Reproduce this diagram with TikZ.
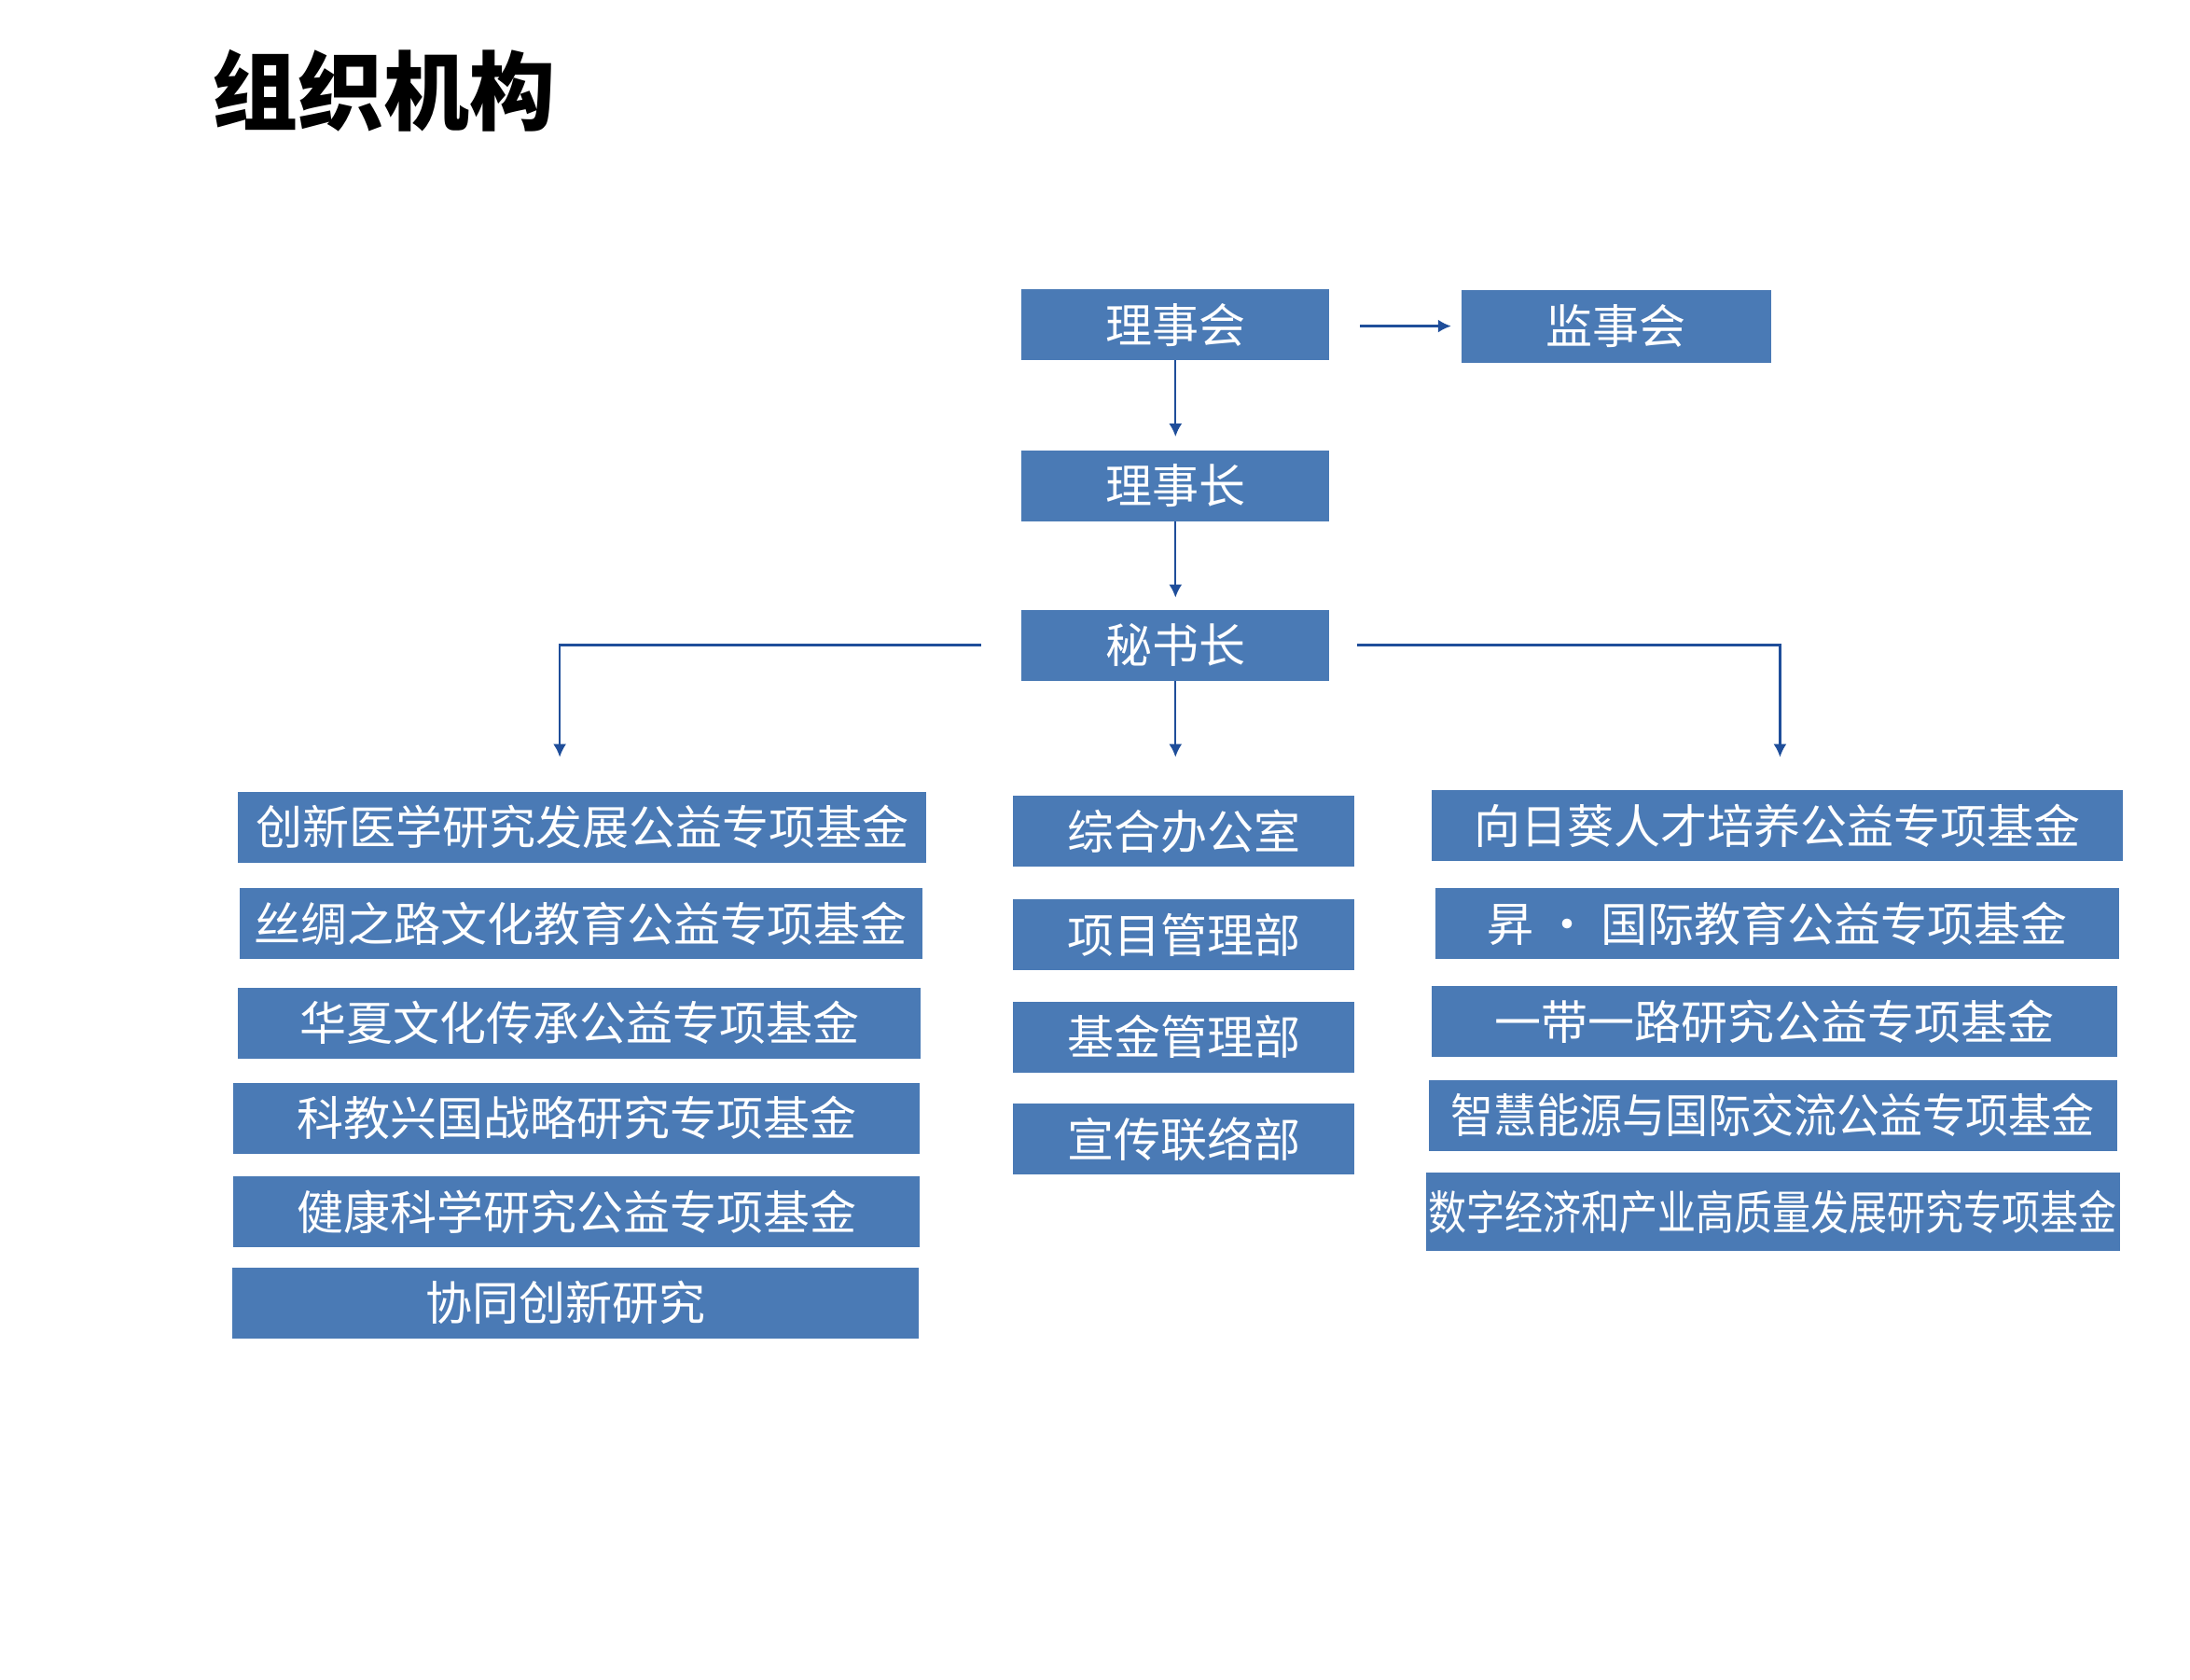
\documentclass[tikz,border=0pt]{standalone}
\usepackage{fontspec}
\newfontfamily\cjk{Noto Sans CJK SC}
\usepackage{graphicx}
\usetikzlibrary{arrows.meta}
\definecolor{boxblue}{RGB}{74,122,181}
\definecolor{lineblue}{RGB}{31,78,154}

\begin{document}
\begin{tikzpicture}[x=0.75pt,y=0.75pt,yscale=-1,xscale=1,
  orgbox/.style={draw=none,fill=boxblue,text=white,inner sep=0pt,
    font=\cjk\fontsize{25}{28}\selectfont},
  link/.style={draw=lineblue,line width=1.2pt,-{Latex[length=7pt,width=7pt]}}]
\useasboundingbox (0,0) rectangle (1565,1200);

% Title
\node (title) at (274,65) {\cjk\bfseries\fontsize{46}{50}\selectfont 组织机构};

% Top
\node[orgbox,minimum width=165pt,minimum height=38pt] (board) at (840,232) {理事会};
\node[orgbox,minimum width=166pt,minimum height=39pt] (super) at (1155,233) {监事会};
\node[orgbox,minimum width=165pt,minimum height=38pt] (chair) at (840,347) {理事长};
\node[orgbox,minimum width=165pt,minimum height=38pt] (secr) at (840,461) {秘书长};

% Left column
\node[orgbox,minimum width=369pt,minimum height=38pt] (fundA) at (416,591) {创新医学研究发展公益专项基金};
\node[orgbox,minimum width=366pt,minimum height=38pt] (fundB) at (415,660) {丝绸之路文化教育公益专项基金};
\node[orgbox,minimum width=366pt,minimum height=38pt] (fundC) at (414,731) {华夏文化传承公益专项基金};
\node[orgbox,minimum width=368pt,minimum height=38pt] (fundD) at (412,799) {科教兴国战略研究专项基金};
\node[orgbox,minimum width=368pt,minimum height=38pt] (fundE) at (412,866) {健康科学研究公益专项基金};
\node[orgbox,minimum width=368pt,minimum height=38pt] (fundF) at (411,931) {\hspace*{-10pt}协同创新研究};

% Middle column
\node[orgbox,minimum width=183pt,minimum height=38pt] (deptA) at (846,594) {综合办公室};
\node[orgbox,minimum width=183pt,minimum height=38pt] (deptB) at (846,668) {项目管理部};
\node[orgbox,minimum width=183pt,minimum height=38pt] (deptC) at (846,741) {基金管理部};
\node[orgbox,minimum width=183pt,minimum height=38pt] (deptD) at (846,814) {宣传联络部};

% Right column
\node[orgbox,minimum width=370pt,minimum height=38pt] (fundG) at (1270,590) {向日葵人才培养公益专项基金};
\node[orgbox,minimum width=366pt,minimum height=38pt] (fundH) at (1270,660) {昇 · 国际教育公益专项基金};
\node[orgbox,minimum width=367pt,minimum height=38pt] (fundI) at (1268,730) {一带一路研究公益专项基金};
\node[orgbox,minimum width=369pt,minimum height=38pt] (fundJ) at (1267,797) {\scalebox{0.92}[1]{智慧能源与国际交流公益专项基金}};
\node[orgbox,minimum width=372pt,minimum height=42pt] (fundK) at (1267,866) {\scalebox{0.82}[1]{数字经济和产业高质量发展研究专项基金}};

% Connectors
\coordinate (boardR) at (972,233);
\coordinate (superL) at (1037,233);
\coordinate (chairT) at (840,312);
\coordinate (secrT) at (840,427);
\coordinate (midT) at (840,541);
\coordinate (leftS) at (701,461);
\coordinate (leftT) at (400,541);
\coordinate (rightS) at (970,461);
\coordinate (rightT) at (1272,541);

\draw[link] (boardR) -- (superL);
\draw[link] (board.south) -- (chairT);
\draw[link] (chair.south) -- (secrT);
\draw[link] (secr.south) -- (midT);
\draw[link] (leftS) -| (leftT);
\draw[link] (rightS) -| (rightT);

\end{tikzpicture}
\end{document}
